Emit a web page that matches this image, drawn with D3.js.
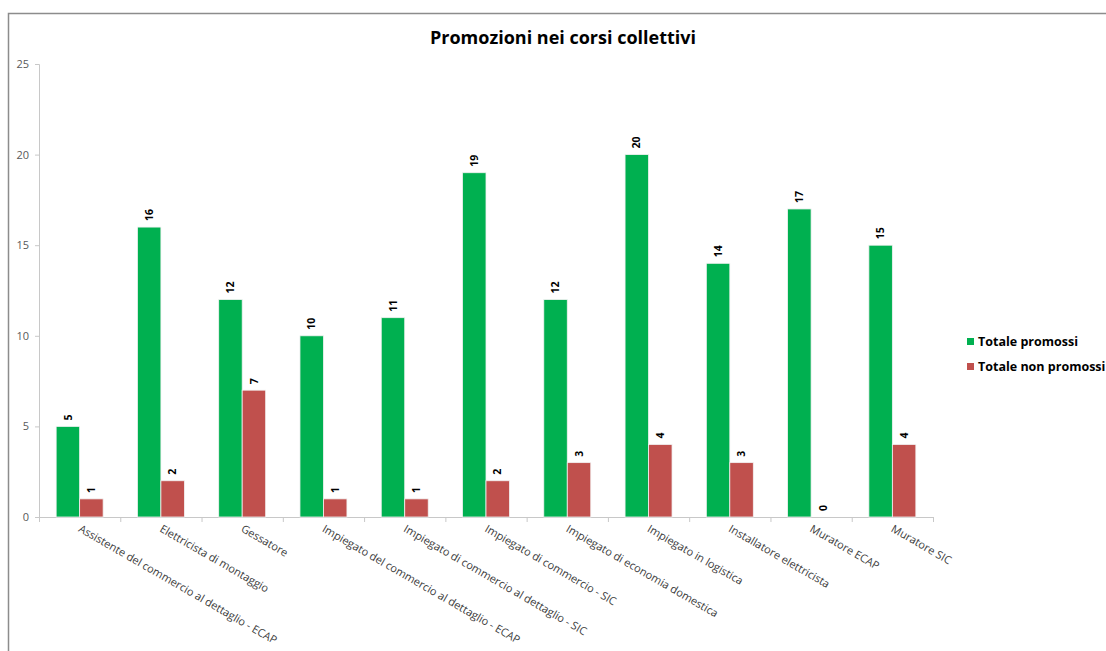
<!DOCTYPE html>
<html>
<head>
<meta charset="utf-8">
<script src="https://cdn.jsdelivr.net/npm/d3@7"></script>
<style>
    body { margin: 0; background: #fff; }
    text { font-family: "Open Sans", "Liberation Sans", sans-serif; }
</style>
</head>
<body>
<script>
//chart data
const categories = [
    "Assistente del commercio al dettaglio - ECAP",
    "Elettricista di montaggio",
    "Gessatore",
    "Impiegato del commercio al dettaglio - ECAP",
    "Impiegato di commercio al dettaglio - SIC",
    "Impiegato di commercio - SIC",
    "Impiegato di economia domestica",
    "Impiegato in logistica",
    "Installatore elettricista",
    "Muratore ECAP",
    "Muratore SIC"
];
const promossi = [5, 16, 12, 10, 11, 19, 12, 20, 14, 17, 15];
const nonPromossi = [1, 2, 7, 1, 1, 2, 3, 4, 3, 0, 4];
const seriesNames = ["Totale promossi", "Totale non promossi"];
const seriesColors = ["#00B050", "#C0504D"];
const yTicks = [0, 5, 10, 15, 20, 25];

function init() {
    const W = 1106, H = 651;
    const plot = { left: 39, right: 933, top: 64, bottom: 517 };

    const svg = d3.select("body").append("svg")
        .attr("width", W)
        .attr("height", H);

    //outer frame
    svg.append("rect")
        .attr("x", 8.5).attr("y", 13.5)
        .attr("width", W).attr("height", H)
        .attr("fill", "none")
        .attr("stroke", "#8c8c8c")
        .attr("stroke-width", 1.5);

    //title
    svg.append("text")
        .attr("x", 563).attr("y", 44)
        .attr("text-anchor", "middle")
        .style("font-size", "18px")
        .style("font-weight", "bold")
        .attr("fill", "#000")
        .text("Promozioni nei corsi collettivi");

    //scales
    const x0 = d3.scaleBand()
        .domain(categories)
        .range([plot.left, plot.right])
        .paddingInner(0.422)
        .paddingOuter(0.211);

    const x1 = d3.scaleBand()
        .domain(seriesNames)
        .range([0, x0.bandwidth()]);

    const y = d3.scaleLinear()
        .domain([0, 25])
        .range([plot.bottom, plot.top]);

    //y axis
    const yAxis = svg.append("g")
        .attr("transform", "translate(" + plot.left + ",0)")
        .call(d3.axisLeft(y).tickValues(yTicks).tickSize(4).tickSizeOuter(4).tickPadding(6));
    yAxis.select(".domain").attr("stroke", "#c8c8c8");
    yAxis.selectAll(".tick line").attr("stroke", "#c8c8c8");
    yAxis.selectAll(".tick text")
        .attr("fill", "#595959")
        .style("font-size", "11px");

    //x axis (category boundaries as ticks)
    const boundaries = d3.range(categories.length + 1);
    const xb = d3.scaleLinear().domain([0, categories.length]).range([plot.left, plot.right]);
    const xAxis = svg.append("g")
        .attr("transform", "translate(0," + plot.bottom + ")")
        .call(d3.axisBottom(xb).tickValues(boundaries).tickSize(5).tickSizeOuter(0).tickFormat(""));
    xAxis.select(".domain").attr("stroke", "#c8c8c8");
    xAxis.selectAll(".tick line").attr("stroke", "#c8c8c8");

    //category labels
    svg.append("g").selectAll("text")
        .data(categories)
        .join("text")
        .attr("transform", function (d) {
            return "translate(" + (x0(d) + x0.bandwidth() / 2 - 2) + "," + (plot.bottom + 14) + ") rotate(30)";
        })
        .attr("fill", "#404040")
        .style("font-size", "11px")
        .text(function (d) { return d; });

    //bars
    const rows = categories.map(function (c, i) {
        return { cat: c, values: [promossi[i], nonPromossi[i]] };
    });

    const groups = svg.append("g").selectAll("g")
        .data(rows)
        .join("g")
        .attr("transform", function (d) { return "translate(" + x0(d.cat) + ",0)"; });

    groups.selectAll("rect")
        .data(function (d) { return d.values.map(function (v, j) { return { s: seriesNames[j], v: v, j: j }; }); })
        .join("rect")
        .attr("x", function (d) { return x1(d.s); })
        .attr("y", function (d) { return y(d.v); })
        .attr("width", x1.bandwidth())
        .attr("height", function (d) { return y(0) - y(d.v); })
        .attr("fill", function (d) { return seriesColors[d.j]; })
        .attr("stroke", function (d) { return d.v > 0 ? "#f2f2f2" : "none"; })
        .attr("stroke-width", 0.8);

    //value labels
    groups.selectAll("text")
        .data(function (d) { return d.values.map(function (v, j) { return { s: seriesNames[j], v: v }; }); })
        .join("text")
        .attr("transform", function (d) {
            return "translate(" + (x1(d.s) + x1.bandwidth() / 2) + "," + (y(d.v) - 6) + ") rotate(-90)";
        })
        .attr("dy", "0.35em")
        .attr("text-anchor", "start")
        .style("font-size", "10.5px")
        .style("font-weight", "bold")
        .attr("fill", "#000")
        .text(function (d) { return d.v; });

    //legend
    const legend = svg.append("g").selectAll("g")
        .data(seriesNames)
        .join("g")
        .attr("transform", function (d, i) { return "translate(967," + (342 + i * 25) + ")"; });
    legend.append("rect")
        .attr("x", 0).attr("y", -4)
        .attr("width", 7).attr("height", 7)
        .attr("fill", function (d, i) { return seriesColors[i]; });
    legend.append("text")
        .attr("x", 11).attr("y", 0)
        .attr("dy", "0.35em")
        .style("font-size", "12.5px")
        .style("font-weight", "bold")
        .attr("fill", "#000")
        .text(function (d) { return d; });
}

window.onload = init;
</script>
</body>
</html>
